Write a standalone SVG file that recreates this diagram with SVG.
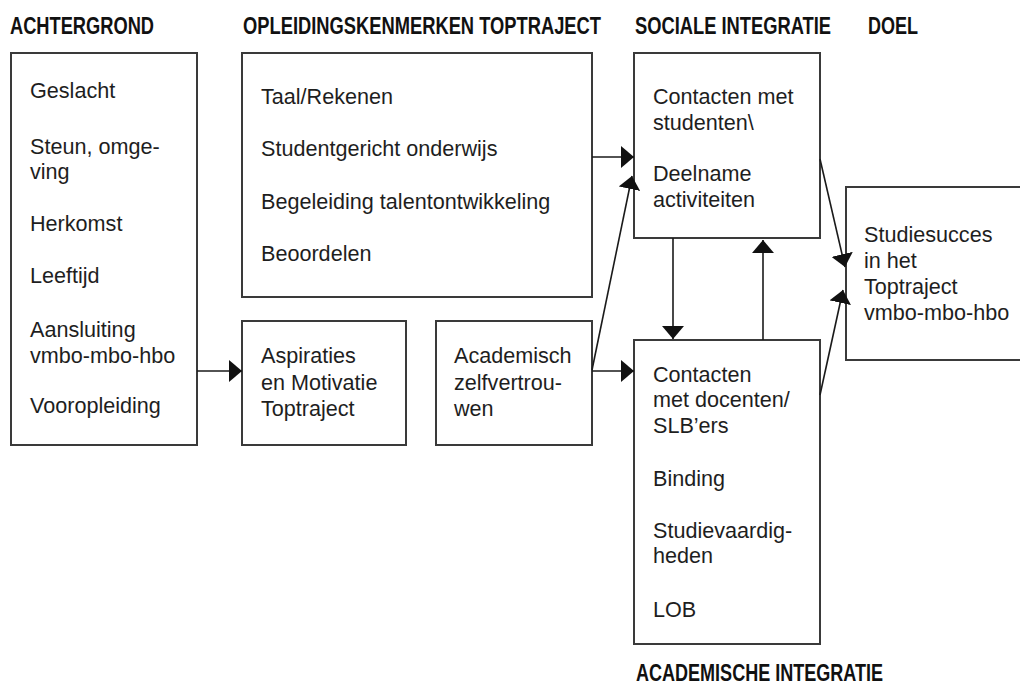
<svg xmlns="http://www.w3.org/2000/svg" width="1020" height="684" viewBox="0 0 1020 684">
<style>
.box{fill:#fff;stroke:#3a3a3a;stroke-width:2}
.t{font-family:"Liberation Sans",Arial,sans-serif;font-size:21.6px;fill:#1e1e1e}
.h{font-family:"Liberation Sans",Arial,sans-serif;font-weight:bold;font-size:23.5px;fill:#111}
.c{fill:none;stroke:#1a1a1a;stroke-width:1.6}
</style>
<defs>
<marker id="ah" markerUnits="userSpaceOnUse" markerWidth="13" markerHeight="22" refX="13" refY="11" orient="auto" viewBox="0 0 13 22">
<path d="M0,0 L13,11 L0,22 z" fill="#111"/>
</marker>
</defs>
<rect width="1020" height="684" fill="#fff"/>
<g id="headings">
<text class="h" transform="translate(10,34) scale(0.74,1)" x="0" y="0" textLength="194.6" lengthAdjust="spacingAndGlyphs">ACHTERGROND</text>
<text class="h" transform="translate(243,34) scale(0.74,1)" x="0" y="0" textLength="483.8" lengthAdjust="spacingAndGlyphs">OPLEIDINGSKENMERKEN TOPTRAJECT</text>
<text class="h" transform="translate(635,34) scale(0.74,1)" x="0" y="0" textLength="264.9" lengthAdjust="spacingAndGlyphs">SOCIALE INTEGRATIE</text>
<text class="h" transform="translate(868,34) scale(0.74,1)" x="0" y="0" textLength="67.6" lengthAdjust="spacingAndGlyphs">DOEL</text>
<text class="h" transform="translate(636,681) scale(0.74,1)" x="0" y="0" textLength="333.8" lengthAdjust="spacingAndGlyphs">ACADEMISCHE INTEGRATIE</text>
</g>
<g id="achtergrond">
<rect class="box" x="11" y="53" width="186" height="392"/>
<text class="t" x="30" y="98">Geslacht</text>
<text class="t" x="30" y="154">Steun, omge-</text>
<text class="t" x="30" y="179">ving</text>
<text class="t" x="30" y="231">Herkomst</text>
<text class="t" x="30" y="283">Leeftijd</text>
<text class="t" x="30" y="337">Aansluiting</text>
<text class="t" x="30" y="363">vmbo-mbo-hbo</text>
<text class="t" x="30" y="413">Vooropleiding</text>
</g>
<g id="opleidingskenmerken">
<rect class="box" x="242" y="53" width="350" height="244"/>
<text class="t" x="261" y="104">Taal/Rekenen</text>
<text class="t" x="261" y="156">Studentgericht onderwijs</text>
<text class="t" x="261" y="209">Begeleiding talentontwikkeling</text>
<text class="t" x="261" y="261">Beoordelen</text>
</g>
<g id="aspiraties">
<rect class="box" x="242" y="321" width="164" height="124"/>
<text class="t" x="261" y="363">Aspiraties</text>
<text class="t" x="261" y="390">en Motivatie</text>
<text class="t" x="261" y="416">Toptraject</text>
</g>
<g id="zelfvertrouwen">
<rect class="box" x="436" y="321" width="156" height="124"/>
<text class="t" x="454" y="363">Academisch</text>
<text class="t" x="454" y="390">zelfvertrou-</text>
<text class="t" x="454" y="416">wen</text>
</g>
<g id="sociale">
<rect class="box" x="634" y="53" width="186" height="185"/>
<text class="t" x="653" y="104">Contacten met</text>
<text class="t" x="653" y="130">studenten\</text>
<text class="t" x="653" y="181">Deelname</text>
<text class="t" x="653" y="207">activiteiten</text>
</g>
<g id="academische">
<rect class="box" x="634" y="340" width="186" height="304"/>
<text class="t" x="653" y="382">Contacten</text>
<text class="t" x="653" y="407">met docenten/</text>
<text class="t" x="653" y="433">SLB’ers</text>
<text class="t" x="653" y="486">Binding</text>
<text class="t" x="653" y="538">Studievaardig-</text>
<text class="t" x="653" y="563">heden</text>
<text class="t" x="653" y="617">LOB</text>
</g>
<g id="doel">
<rect class="box" x="846" y="187" width="180" height="173"/>
<text class="t" x="864" y="242">Studiesucces</text>
<text class="t" x="864" y="268">in het</text>
<text class="t" x="864" y="294">Toptraject</text>
<text class="t" x="864" y="320">vmbo-mbo-hbo</text>
</g>
<g id="connectors">
<line class="c" x1="197" y1="371" x2="242" y2="371" marker-end="url(#ah)"/>
<line class="c" x1="592" y1="157" x2="634" y2="157" marker-end="url(#ah)"/>
<line class="c" x1="592" y1="370" x2="632" y2="176" marker-end="url(#ah)"/>
<line class="c" x1="592" y1="371" x2="634" y2="371" marker-end="url(#ah)"/>
<line class="c" x1="673" y1="238" x2="673" y2="339" marker-end="url(#ah)"/>
<line class="c" x1="763" y1="340" x2="763" y2="240" marker-end="url(#ah)"/>
<line class="c" x1="820" y1="159" x2="845" y2="267" marker-end="url(#ah)"/>
<line class="c" x1="820" y1="395" x2="843" y2="290" marker-end="url(#ah)"/>
</g>
</svg>
